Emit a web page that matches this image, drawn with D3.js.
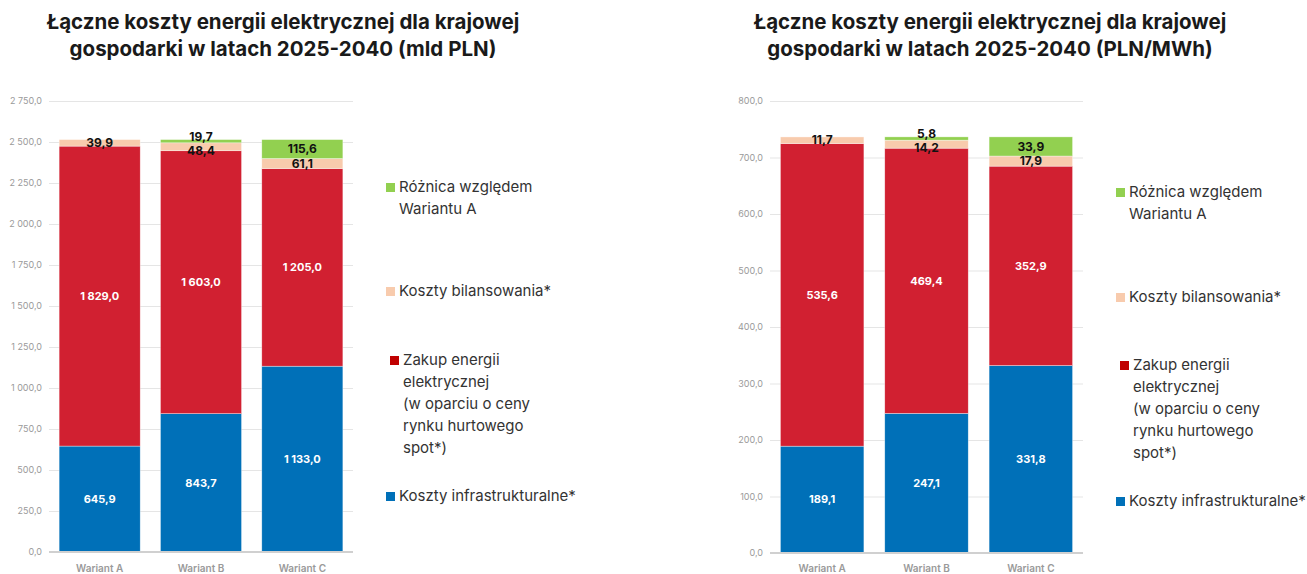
<!DOCTYPE html>
<html>
<head>
<meta charset="utf-8">
<script src="https://cdn.jsdelivr.net/npm/d3@7"></script>
<style>
  body { margin: 0; background: #fff; font-family: Inter, "Noto Sans", sans-serif; }
  svg { display: block; }
</style>
</head>
<body>
<svg id="chart" width="1307" height="574"></svg>
<script>
const categories = ['Wariant A', 'Wariant B', 'Wariant C']
const seriesNames = ['Koszty infrastrukturalne*', 'Zakup energii elektrycznej', 'Koszty bilansowania*', 'Różnica względem Wariantu A']

// lewy wykres (mld PLN)
const infraMld = [645.9, 843.7, 1133.0]
const zakupMld = [1829.0, 1603.0, 1205.0]
const bilansMld = [39.9, 48.4, 61.1]
const roznicaMld = [0, 19.7, 115.6]
const ticksMld = [0, 250, 500, 750, 1000, 1250, 1500, 1750, 2000, 2250, 2500, 2750]

// prawy wykres (PLN/MWh)
const infraMwh = [189.1, 247.1, 331.8]
const zakupMwh = [535.6, 469.4, 352.9]
const bilansMwh = [11.7, 14.2, 17.9]
const roznicaMwh = [0, 5.8, 33.9]
const ticksMwh = [0, 100, 200, 300, 400, 500, 600, 700, 800]

const colors = ['#0070b8', '#d12031', '#f8cbad', '#92d050']
const legendColors = ['#0070b8', '#c00000', '#f8cbad', '#92d050']

const loc = d3.formatLocale({ decimal: ',', thousands: ' ', grouping: [3], currency: ['', ''] })
const fmt = loc.format(',.1f')

const svg = d3.select('#chart')

function drawChart (opt) {
  const g = svg.append('g')
  const y = d3.scaleLinear().domain([0, opt.max]).range([opt.bottom, opt.top])
  const x = d3.scaleBand().domain(categories).range([opt.left, opt.right]).paddingInner(0.2).paddingOuter(0.1)

  // tytuł
  g.append('text')
    .attr('x', opt.titleX).attr('y', 29)
    .attr('text-anchor', 'middle')
    .style('font-size', '20.5px').style('font-weight', 700).style('fill', '#1a1a1a')
    .selectAll('tspan')
    .data(opt.title)
    .enter()
    .append('tspan')
    .attr('x', opt.titleX)
    .attr('dy', (d, i) => i ? 27 : 0)
    .text(d => d)

  // siatka
  g.append('g')
    .attr('transform', `translate(${opt.left},0)`)
    .call(d3.axisLeft(y).tickValues(opt.ticks).tickSize(-(opt.right - opt.left)).tickFormat(fmt).tickPadding(7))
    .call(a => a.select('.domain').remove())
    .call(a => a.selectAll('.tick line').attr('stroke', '#e5e5e5'))
    .call(a => a.selectAll('.tick text').style('font-family', 'Inter, sans-serif').style('font-size', '9px').attr('fill', '#9a9a9a'))

  const stack = d3.stack().keys([0, 1, 2, 3])
  const rows = categories.map((c, i) => ({ cat: c, 0: opt.data[0][i], 1: opt.data[1][i], 2: opt.data[2][i], 3: opt.data[3][i] }))
  const layers = stack(rows)

  layers.forEach((layer, k) => {
    g.append('g').selectAll('rect')
      .data(layer)
      .enter()
      .append('rect')
      .attr('x', d => x(d.data.cat))
      .attr('width', x.bandwidth())
      .attr('y', d => y(d[1]))
      .attr('height', d => y(d[0]) - y(d[1]))
      .attr('fill', colors[k])
      .attr('stroke', '#fff').attr('stroke-width', 0.6).attr('stroke-opacity', 0.6)
  })

  // etykiety wartości
  layers.forEach((layer, k) => {
    g.append('g').selectAll('text')
      .data(layer.filter(d => d[1] - d[0] > 0))
      .enter()
      .append('text')
      .attr('x', d => x(d.data.cat) + x.bandwidth() / 2)
      .attr('y', (d, i) => {
        const top = y(d[1]), bot = y(d[0]), c = (top + bot) / 2
        if (k === 3 && bot - top < 12) return top - 3
        if (k === 2 && d.data[3] > 0 && y(d[1]) - y(d[1] + d.data[3]) < 12) return c + 4
        return c
      })
      .attr('dy', '0.35em')
      .attr('text-anchor', 'middle')
      .style('font-size', k < 2 ? '11px' : '12px')
      .style('font-weight', 700)
      .style('fill', k < 2 ? '#fff' : '#111')
      .text(d => fmt(d[1] - d[0]))
  })

  // oś X
  g.append('line')
    .attr('x1', opt.left).attr('x2', opt.right)
    .attr('y1', y(0)).attr('y2', y(0))
    .attr('stroke', '#d0d0d0').attr('stroke-width', 2)
  g.append('g').selectAll('text')
    .data(categories)
    .enter()
    .append('text')
    .attr('x', d => x(d) + x.bandwidth() / 2)
    .attr('y', 572)
    .attr('text-anchor', 'middle')
    .style('font-size', '10px').style('font-weight', 600).style('fill', '#9a9a9a')
    .text(d => d)

  // legenda
  const legend = [
    { k: 3, lines: ['Różnica względem', 'Wariantu A'], y: opt.legY[0] },
    { k: 2, lines: ['Koszty bilansowania*'], y: opt.legY[1] },
    { k: 1, lines: ['Zakup energii', 'elektrycznej', '(w oparciu o ceny', 'rynku hurtowego', 'spot*)'], y: opt.legY[2], dx: 4 },
    { k: 0, lines: ['Koszty infrastrukturalne*'], y: opt.legY[3] }
  ]
  const lg = g.append('g').selectAll('g')
    .data(legend)
    .enter()
    .append('g')
    .attr('transform', d => `translate(${opt.legX + (d.dx || 0)},${d.y})`)
  lg.append('rect')
    .attr('x', 0).attr('y', -9).attr('width', 9).attr('height', 9)
    .attr('fill', d => legendColors[d.k])
  lg.append('text')
    .attr('x', 13).attr('y', 0)
    .style('font-size', '15px').style('fill', '#333')
    .selectAll('tspan')
    .data(d => d.lines)
    .enter()
    .append('tspan')
    .attr('x', 13)
    .attr('dy', (d, i) => i ? 22 : 0)
    .text(d => d)
}

drawChart({
  title: ['Łączne koszty energii elektrycznej dla krajowej', 'gospodarki w latach 2025-2040 (mld PLN)'],
  titleX: 283,
  data: [infraMld, zakupMld, bilansMld, roznicaMld],
  ticks: ticksMld, max: 2750,
  left: 49, right: 353, top: 101, bottom: 552,
  legX: 386, legY: [192, 296, 365, 501]
})

drawChart({
  title: ['Łączne koszty energii elektrycznej dla krajowej', 'gospodarki w latach 2025-2040 (PLN/MWh)'],
  titleX: 990,
  data: [infraMwh, zakupMwh, bilansMwh, roznicaMwh],
  ticks: ticksMwh, max: 800,
  left: 770, right: 1083, top: 101, bottom: 553,
  legX: 1116, legY: [197, 302, 370, 506]
})
</script>
</body>
</html>
